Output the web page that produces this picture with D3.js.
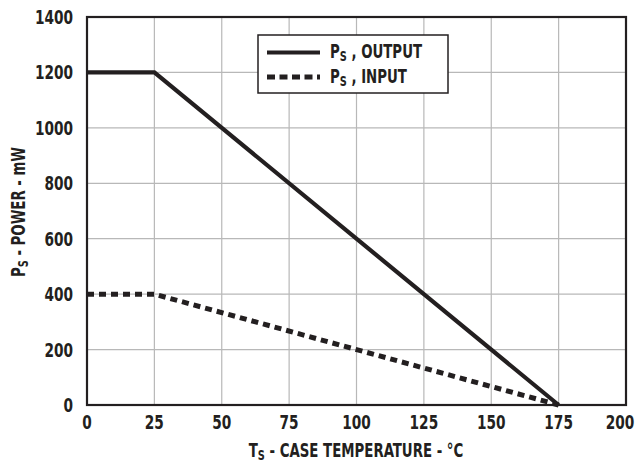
<!DOCTYPE html>
<html>
<head>
<script src="https://cdnjs.cloudflare.com/ajax/libs/d3/7.8.5/d3.min.js"></script>
<style>
body{margin:0;background:#fff;}
text{font-family:"DejaVu Sans Condensed","Liberation Sans Narrow",sans-serif;font-weight:bold;fill:#231f20;}
</style>
</head>
<body>
<svg width="637" height="465"></svg>
<script>
var xTicks = [0, 25, 50, 75, 100, 125, 150, 175, 200];
var yTicks = [0, 200, 400, 600, 800, 1000, 1200, 1400];
var outTemp = [0, 25, 175];
var outPower = [1200, 1200, 0];
var inTemp = [0, 25, 175];
var inPower = [400, 400, 0];

var svg = d3.select("svg");
var m = {l: 87, r: 626, t: 17, b: 405};
var x = d3.scaleLinear().domain([0, 200]).range([m.l, m.r]);
var y = d3.scaleLinear().domain([0, 1400]).range([m.b, m.t]);
var sx = 0.78; // squeeze glyphs to look condensed

// grid
svg.selectAll("line.gx").data(xTicks).enter().append("line")
    .attr("x1", d => x(d)).attr("x2", d => x(d))
    .attr("y1", m.t).attr("y2", m.b)
    .attr("stroke", "#b8b8b8").attr("stroke-width", 1.2);
svg.selectAll("line.gy").data(yTicks).enter().append("line")
    .attr("y1", d => y(d)).attr("y2", d => y(d))
    .attr("x1", m.l).attr("x2", m.r)
    .attr("stroke", "#b8b8b8").attr("stroke-width", 1.2);

// tick labels
svg.selectAll("g.xt").data(xTicks).enter().append("g")
    .attr("transform", d => "translate(" + Math.min(x(d), 620) + ",429) scale(" + sx + ",1)")
    .append("text").attr("text-anchor", "middle").attr("font-size", 19.5)
    .text(d => d);
svg.selectAll("g.yt").data(yTicks).enter().append("g")
    .attr("transform", d => "translate(73," + (y(d) + 7) + ") scale(" + sx + ",1)")
    .append("text").attr("text-anchor", "end").attr("font-size", 19.5)
    .text(d => d);

var line = d3.line().x(d => x(d[0])).y(d => y(d[1]));
svg.append("path").datum(d3.zip(outTemp, outPower)).attr("d", line)
    .attr("fill", "none").attr("stroke", "#231f20").attr("stroke-width", 4.2);
svg.append("path").datum(d3.zip(inTemp, inPower)).attr("d", line)
    .attr("fill", "none").attr("stroke", "#231f20").attr("stroke-width", 5)
    .attr("stroke-dasharray", "7,5");

// frame
svg.append("rect").attr("x", m.l).attr("y", m.t)
    .attr("width", m.r - m.l).attr("height", m.b - m.t)
    .attr("fill", "none").attr("stroke", "#231f20").attr("stroke-width", 2.2);

function subLabel(g, main, sub, rest){
    var t = g.append("text").attr("font-size", 19);
    t.append("tspan").text(main);
    t.append("tspan").attr("font-size", 14).attr("dy", 3).text(sub);
    t.append("tspan").attr("dy", -3).text(rest);
    return t;
}

// legend
var lg = svg.append("g");
lg.append("rect").attr("x", 258).attr("y", 35).attr("width", 190).attr("height", 58)
    .attr("fill", "#fff").attr("stroke", "#231f20").attr("stroke-width", 1.5);
var items = [{y: 52.5, ty: 58, dash: null, w: 4.2, label: " , OUTPUT"},
             {y: 77, ty: 83, dash: "8,4.5", w: 5, label: " , INPUT"}];
items.forEach(function(it){
    lg.append("line").attr("x1", 267).attr("x2", 320).attr("y1", it.y).attr("y2", it.y)
        .attr("stroke", "#231f20").attr("stroke-width", it.w)
        .attr("stroke-dasharray", it.dash);
    var g = lg.append("g").attr("transform", "translate(330," + it.ty + ") scale(" + sx + ",1)");
    subLabel(g, "P", "S", it.label);
});

// axis titles
var xg = svg.append("g").attr("transform", "translate(356,457) scale(" + sx + ",1)");
subLabel(xg, "T", "S", " - CASE TEMPERATURE - °C").attr("text-anchor", "middle");

var yg = svg.append("g").attr("transform", "translate(25,212) rotate(-90) scale(" + sx + ",1)");
subLabel(yg, "P", "S", "  - POWER - mW").attr("text-anchor", "middle");
</script>
</body>
</html>
